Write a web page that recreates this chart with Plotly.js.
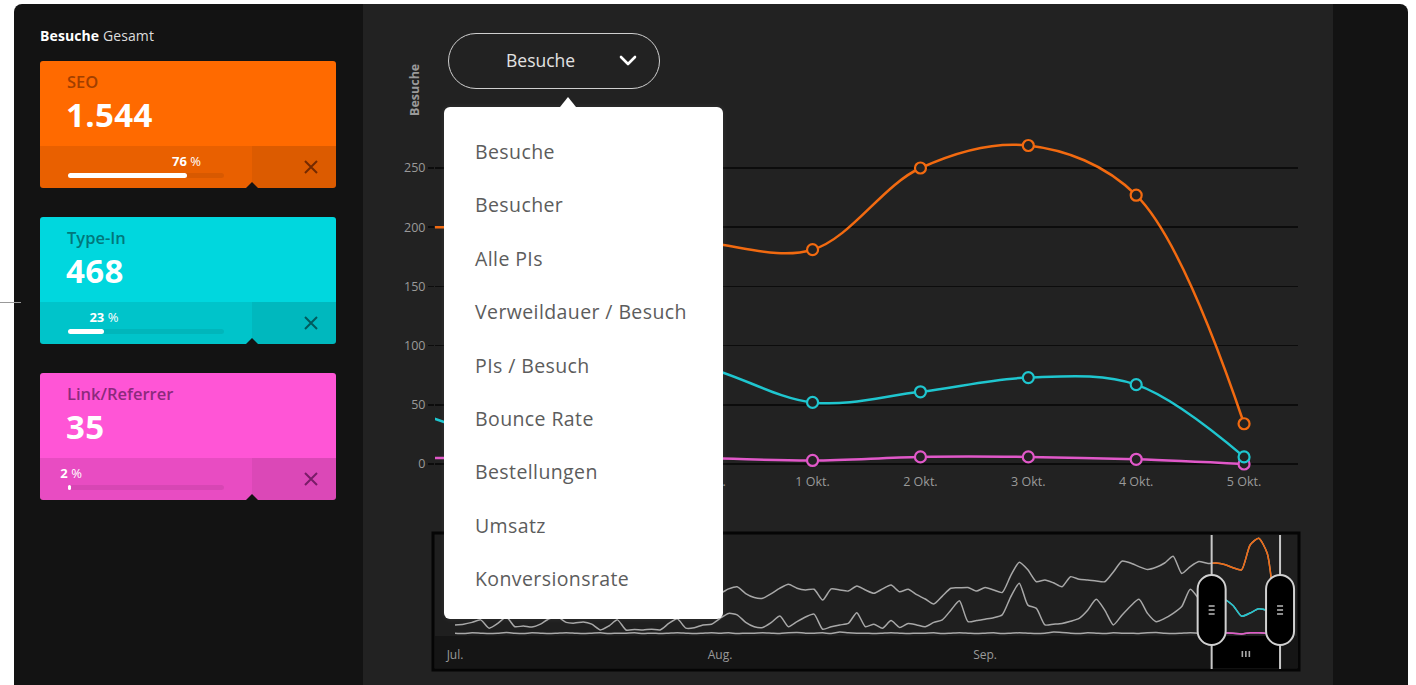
<!DOCTYPE html>
<html><head><meta charset="utf-8">
<script src="https://cdn.plot.ly/plotly-3.0.1.min.js"></script>
<style>
html,body{margin:0;padding:0;background:#fff;}
body{width:1416px;height:685px;overflow:hidden;position:relative;font-family:"Open Sans",sans-serif;}
#frame{position:absolute;left:14px;top:4px;width:1394px;height:700px;background:#131313;border-radius:8px 8px 0 0;}
#mainbg{position:absolute;left:363px;top:4px;width:970px;height:690px;background:#222;}
#chart{position:absolute;left:363px;top:4px;width:970px;height:681px;}
#leftline{position:absolute;left:0;top:302px;width:21px;height:1px;background:#999;}
#heading{position:absolute;left:40px;top:26px;font-size:14px;color:#ddd;line-height:20px;letter-spacing:0.1px;}
#heading b{color:#fff;}
.card{position:absolute;left:40px;width:296px;height:127px;border-radius:3px;overflow:hidden;}
.card .top{position:absolute;left:0;top:0;width:296px;height:85px;}
.card .band{position:absolute;left:0;top:85px;width:212px;height:42px;}
.card .xbox{position:absolute;left:212px;top:85px;width:84px;height:42px;}
.card .lbl{position:absolute;left:27px;top:10px;font-size:16.5px;font-weight:600;line-height:22px;letter-spacing:0px;}
.card .val{position:absolute;left:26px;top:34px;font-size:33px;font-weight:700;color:#fff;line-height:40px;letter-spacing:0.4px;}
.card .pct{position:absolute;top:91px;font-size:13px;color:#fff;line-height:18px;transform:translateX(-50%);white-space:nowrap;}
.card .pct b{font-weight:700;}
.card .track{position:absolute;left:28px;top:112px;width:156px;height:5px;border-radius:3px;background:rgba(0,0,0,0.07);}
.card .fill{position:absolute;left:0;top:0;height:5px;border-radius:3px;background:#fff;}
.card svg.x{position:absolute;left:263px;top:98px;}
.notch{position:absolute;width:0;height:0;border-left:6px solid transparent;border-right:6px solid transparent;border-bottom:6px solid #131313;}
#ddbtn{position:absolute;left:448px;top:33px;width:212px;height:56px;box-sizing:border-box;border:1.5px solid #cfcfcf;border-radius:28px;}
#ddbtn span{position:absolute;left:57px;top:14px;font-size:17.5px;color:#e2e2e2;line-height:24px;}
#ddbtn svg{position:absolute;left:170px;top:21px;}
#caret{position:absolute;left:560px;top:97px;width:0;height:0;border-left:8px solid transparent;border-right:8px solid transparent;border-bottom:10px solid #fff;}
#menu{position:absolute;left:444px;top:107px;width:279px;height:512px;background:#fff;border-radius:6px;box-shadow:0 0 6px rgba(255,255,255,0.08);}
#menu div{position:absolute;left:31px;font-size:19.5px;color:#5c5c5c;line-height:26px;white-space:nowrap;letter-spacing:0.4px;}
</style></head>
<body>
<div id="frame"></div>
<div id="mainbg"></div>
<div id="leftline"></div>
<div id="heading"><b>Besuche</b> Gesamt</div>
<div id="cards"></div>
<div id="chart"></div>
<div id="ddbtn"><span id="ddlabel"></span><svg width="18" height="12" viewBox="0 0 18 12"><polyline points="2,2 9,9 16,2" fill="none" stroke="#fff" stroke-width="2.6" stroke-linecap="round" stroke-linejoin="round"/></svg></div>
<div id="caret"></div>
<div id="menu"></div>
<script>
// ---------- DATA ----------
const channels = ['SEO', 'Type-In', 'Link/Referrer'];
const totals = [1544, 468, 35];
const shares = [76, 23, 2];
const metricOptions = ['Besuche', 'Besucher', 'Alle PIs', 'Verweildauer / Besuch', 'PIs / Besuch', 'Bounce Rate', 'Bestellungen', 'Umsatz', 'Konversionsrate'];
const yAxisTitle = 'Besuche';
const yTicks = [0, 50, 100, 150, 200, 250];
const monthTickLabels = ['Jul.', 'Aug.', 'Sep.'];
const monthNames = ['Jan', 'Feb', 'März', 'Apr', 'Mai', 'Juni', 'Juli', 'Aug', 'Sep', 'Okt', 'Nov', 'Dez'];
// daily visits, 1 Jul .. 5 Okt
const seoDaily = [
 118,125,110,132,128,105,98,121,135,127,115,109,124,138,130,112,104,119,133,126,117,108,122,136,129,114,103,120,131,125,118,
 116,128,134,115,104,102,115,130,141,130,125,127,97,128,125,122,136,125,116,128,139,120,127,112,100,86,108,130,131,132,122,
 132,125,118,165,202,181,148,153,145,134,162,155,153,150,148,175,205,200,190,182,188,200,219,171,190,204,199,200,196,187,
 181,250,269,227,34];
const typeInDaily = [
 28,30,35,42,19,32,50,23,25,22,30,45,50,35,33,36,30,14,25,42,14,15,14,16,14,32,45,19,20,28,30,
 46,60,56,35,23,21,35,53,23,37,50,58,16,23,28,32,62,23,30,19,40,21,32,28,23,35,42,69,95,37,40,
 44,48,56,106,144,83,74,28,30,32,38,46,69,99,69,28,55,80,99,60,37,46,60,79,127,100,60,30,97,82,
 52,61,73,67,6];
const linkDaily = [
 5,4,6,5,4,5,7,5,4,6,5,4,5,6,5,4,5,6,4,5,5,6,4,5,4,5,6,5,4,5,6,
 5,6,4,5,5,6,5,4,6,7,5,5,6,4,8,6,5,5,4,5,6,5,4,5,5,6,4,5,6,5,4,
 5,6,4,5,6,5,4,5,8,7,5,4,6,5,4,6,5,5,4,6,7,5,4,5,6,5,5,5,6,5,
 3,6,6,4,0];

// ---------- STYLE ----------
const cardColors = [
  {top:'#ff6a00', band:'#e96000', x:'#dc5b00', lbl:'#a13f00', xs:'rgba(80,25,0,0.75)'},
  {top:'#00d7de', band:'#00c4ca', x:'#00b8be', lbl:'#00777b', xs:'rgba(0,60,62,0.75)'},
  {top:'#ff55d6', band:'#e84cc2', x:'#db48b7', lbl:'#8c2a7c', xs:'rgba(80,10,70,0.7)'}
];
const lineColors = ['#f26a10', '#1fc6cf', '#e158c9'];

function fmt(n){ return String(n).replace(/\B(?=(\d{3})+(?!\d))/g, '.'); }

// ---------- LEFT CARDS ----------
const cardsEl = document.getElementById('cards');
channels.forEach((name, i) => {
  const c = cardColors[i];
  const top = 61 + i * 156;
  const fillW = Math.max(2, shares[i] * 1.56);
  const d = document.createElement('div');
  d.className = 'card';
  d.style.top = top + 'px';
  d.innerHTML =
    '<div class="top" style="background:' + c.top + '"></div>' +
    '<div class="band" style="background:' + c.band + '"></div>' +
    '<div class="xbox" style="background:' + c.x + '"></div>' +
    '<div class="lbl" style="color:' + c.lbl + '">' + name + '</div>' +
    '<div class="val">' + fmt(totals[i]) + '</div>' +
    '<div class="pct" style="left:' + (28 + fillW) + 'px"><b>' + shares[i] + '</b> %</div>' +
    '<div class="track"><div class="fill" style="width:' + fillW + 'px"></div></div>' +
    '<svg class="x" width="16" height="16" viewBox="0 0 16 16"><path d="M2,2 L14,14 M14,2 L2,14" stroke="' + c.xs + '" stroke-width="2" fill="none"/></svg>';
  cardsEl.appendChild(d);
  const n = document.createElement('div');
  n.className = 'notch';
  n.style.left = (40 + 212 - 6) + 'px';
  n.style.top = (top + 121) + 'px';
  document.body.appendChild(n);
});

// ---------- DROPDOWN ----------
document.getElementById('ddlabel').textContent = metricOptions[0];
const menu = document.getElementById('menu');
metricOptions.forEach((m, i) => {
  const it = document.createElement('div');
  it.textContent = m;
  it.style.top = (32 + i * 53.375) + 'px';
  menu.appendChild(it);
});

// ---------- CHART ----------
const DAY = 86400000;
const START = Date.UTC(2015, 6, 1);
function iso(ms){ return new Date(ms).toISOString().slice(0, 19).replace('T', ' '); }
const dates = seoDaily.map((_, i) => iso(START + i * DAY));
const series = [seoDaily, typeInDaily, linkDaily];

const mainFrom = 88; // 27 Sep
const mainX = dates.slice(mainFrom);
const mainRange = [iso(START + 88.5 * DAY), iso(START + 96.5 * DAY)];
const tickIdx = [91, 92, 93, 94, 95, 96];
const tickVals = tickIdx.map(i => dates[i]);
const tickText = tickIdx.map(i => { const d = new Date(START + i * DAY); return d.getUTCDate() + ' ' + monthNames[d.getUTCMonth()] + '.'; });

const navStartDays = -2.34, navSpanDays = 100.94;
const navRange = [iso(START + navStartDays * DAY), iso(START + (navStartDays + navSpanDays) * DAY)];
const selA = 88.5, selB = 96.5;
const selDomain = [(selA - navStartDays) / navSpanDays, (selB - navStartDays) / navSpanDays];
const monthTickVals = [iso(Date.UTC(2015, 6, 1)), iso(Date.UTC(2015, 7, 1)), iso(Date.UTC(2015, 8, 1))];

const traces = [];
// navigator grey
series.forEach(s => traces.push({x: dates, y: s, xaxis: 'x2', yaxis: 'y2', type: 'scatter', mode: 'lines',
  line: {color: '#a8a8a8', width: 1.5, shape: 'spline', smoothing: 0.6}, hoverinfo: 'skip'}));
// navigator coloured selection
series.forEach((s, k) => traces.push({x: dates, y: s, xaxis: 'x3', yaxis: 'y2', type: 'scatter', mode: 'lines',
  line: {color: lineColors[k], width: 1.5, shape: 'spline', smoothing: 0.6}, hoverinfo: 'skip'}));
// main chart
series.slice().reverse().forEach((s, r) => { const k = 2 - r; traces.push({x: mainX, y: s.slice(mainFrom), xaxis: 'x', yaxis: 'y',
  type: 'scatter', mode: 'lines+markers', name: channels[k],
  line: {color: lineColors[k], width: 2.5, shape: 'spline', smoothing: 1},
  marker: {symbol: 'circle', size: 11, color: '#222', line: {color: lineColors[k], width: 2.2}}}); });

const H = 681;
const py = (pageY) => 1 - (pageY - 4) / H;
const pill = 'M -14,-21 L -14,21 C -14,28.7 -7.7,35 0,35 C 7.7,35 14,28.7 14,21 L 14,-21 C 14,-28.7 7.7,-35 0,-35 C -7.7,-35 -14,-28.7 -14,-21 Z';
const grip = 'M -3,-4 L 3,-4 M -3,0 L 3,0 M -3,4 L 3,4';
const vgrip = 'M -3.5,-3 L -3.5,3 M 0,-3 L 0,3 M 3.5,-3 L 3.5,3';
const selAx = iso(START + selA * DAY), selBx = iso(START + selB * DAY), selMid = iso(START + (selA + selB) / 2 * DAY);

const shapes = [
  {type: 'rect', xref: 'paper', yref: 'paper', x0: -2/863, x1: 1 + 1/863, y0: py(670), y1: py(533), fillcolor: '#1f1f1f', line: {color: '#050505', width: 3}, layer: 'below'},
  {type: 'rect', xref: 'paper', yref: 'paper', x0: 0, x1: 1, y0: py(668), y1: py(636), fillcolor: '#151515', line: {width: 0}, layer: 'below'},
  {type: 'rect', xref: 'x2', yref: 'paper', x0: selAx, x1: selBx, y0: py(668), y1: py(636), fillcolor: '#000', line: {width: 0}, layer: 'below'},
  {type: 'line', xref: 'x2', yref: 'paper', x0: selAx, x1: selAx, y0: py(669), y1: py(535), line: {color: '#c8c8c8', width: 2}},
  {type: 'line', xref: 'x2', yref: 'paper', x0: selBx, x1: selBx, y0: py(669), y1: py(535), line: {color: '#c8c8c8', width: 2}},
  {type: 'path', xref: 'x2', yref: 'paper', xsizemode: 'pixel', ysizemode: 'pixel', xanchor: selAx, yanchor: py(610), path: pill, fillcolor: '#000', line: {color: '#d0d0d0', width: 2}},
  {type: 'path', xref: 'x2', yref: 'paper', xsizemode: 'pixel', ysizemode: 'pixel', xanchor: selBx, yanchor: py(610), path: pill, fillcolor: '#000', line: {color: '#d0d0d0', width: 2}},
  {type: 'path', xref: 'x2', yref: 'paper', xsizemode: 'pixel', ysizemode: 'pixel', xanchor: selAx, yanchor: py(610), path: grip, line: {color: '#bbb', width: 1.6}},
  {type: 'path', xref: 'x2', yref: 'paper', xsizemode: 'pixel', ysizemode: 'pixel', xanchor: selBx, yanchor: py(610), path: grip, line: {color: '#bbb', width: 1.6}},
  {type: 'path', xref: 'x2', yref: 'paper', xsizemode: 'pixel', ysizemode: 'pixel', xanchor: selMid, yanchor: py(654), path: vgrip, line: {color: '#aaa', width: 1.6}}
];

const layout = {
  width: 970, height: H,
  margin: {l: 72, r: 35, t: 0, b: 0},
  paper_bgcolor: '#222', plot_bgcolor: 'rgba(0,0,0,0)',
  showlegend: false,
  font: {family: 'Open Sans, sans-serif', color: '#9a9a9a', size: 12},
  xaxis: {domain: [0, 1], anchor: 'y', type: 'date', range: mainRange, tickvals: tickVals, ticktext: tickText,
    showgrid: false, zeroline: false, showline: false, ticks: '', ticklen: 0,
    tickfont: {size: 12.5, color: '#9a9a9a'}},
  yaxis: {domain: [py(472.3), py(130.1)], anchor: 'x', range: [-7, 282], tickvals: yTicks,
    showgrid: true, gridcolor: '#0c0c0c', gridwidth: 1.5, zeroline: false, showline: false,
    ticks: 'outside', ticklen: 6, tickwidth: 1.5, tickcolor: '#0c0c0c', tickfont: {size: 12.5, color: '#9a9a9a'}},
  xaxis2: {domain: [0, 1], anchor: 'y2', type: 'date', range: navRange, tickvals: monthTickVals, ticktext: monthTickLabels,
    showgrid: false, zeroline: false, showline: false, ticks: 'outside', ticklen: 8, tickcolor: 'rgba(0,0,0,0)',
    tickfont: {size: 12, color: '#9a9a9a'}},
  yaxis2: {domain: [py(636), py(535)], anchor: 'x2', range: [-2.8, 277.8], showgrid: false, zeroline: false,
    showticklabels: false, showline: false, ticks: ''},
  xaxis3: {domain: selDomain, anchor: 'y2', type: 'date', range: [selAx, selBx], visible: false, showgrid: false, zeroline: false},
  shapes: shapes,
  annotations: [{text: '<b>' + yAxisTitle + '</b>', xref: 'paper', yref: 'paper', x: (415 - 435) / 863, y: py(90),
    textangle: -90, showarrow: false, font: {size: 12.5, color: '#9a9a9a'}, xanchor: 'center', yanchor: 'middle'}]
};
Plotly.newPlot('chart', traces, layout, {displayModeBar: false, staticPlot: true});
</script>
</body></html>
